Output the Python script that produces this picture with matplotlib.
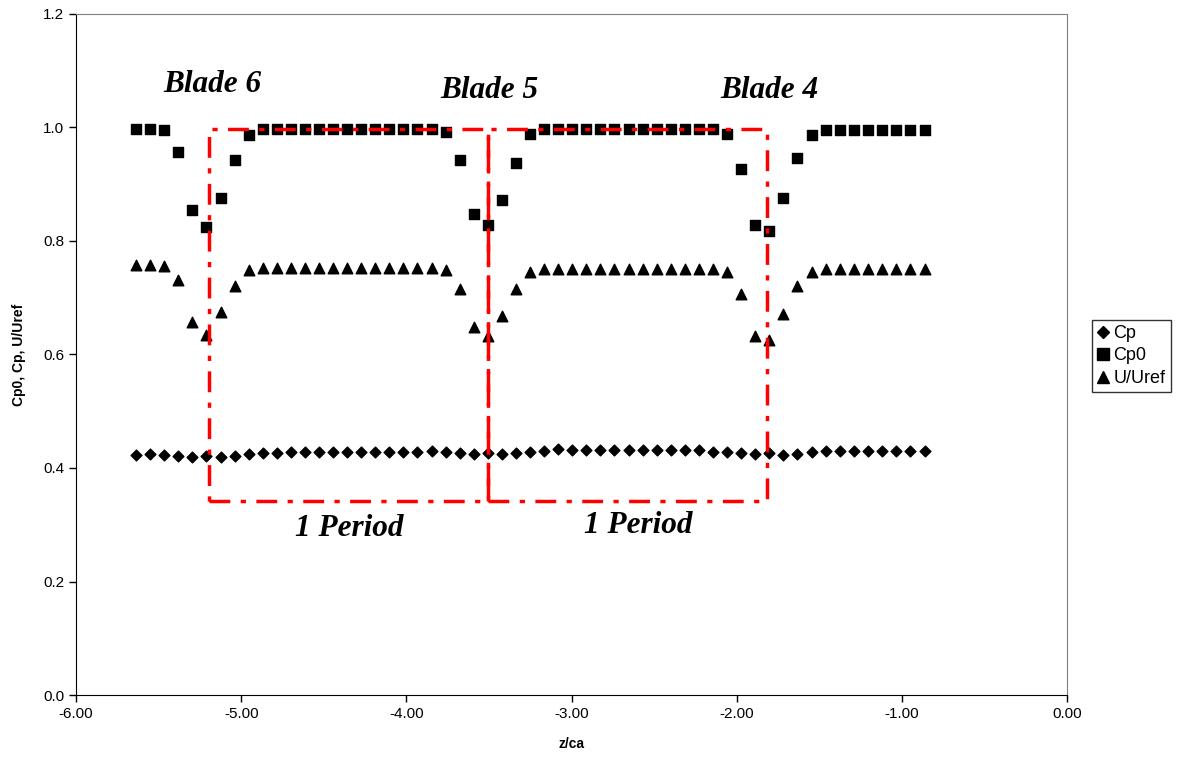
import matplotlib.pyplot as plt
from matplotlib.lines import Line2D

# z/ca positions (57 stations)
z = [-5.636, -5.551, -5.466, -5.381, -5.296, -5.211, -5.125, -5.040, -4.955, -4.870,
     -4.785, -4.699, -4.614, -4.529, -4.444, -4.359, -4.273, -4.188, -4.103, -4.018,
     -3.933, -3.847, -3.762, -3.677, -3.592, -3.507, -3.421, -3.336, -3.251, -3.166,
     -3.081, -2.995, -2.910, -2.825, -2.740, -2.655, -2.569, -2.484, -2.399, -2.314,
     -2.229, -2.143, -2.058, -1.973, -1.888, -1.803, -1.717, -1.632, -1.547, -1.462,
     -1.377, -1.291, -1.206, -1.121, -1.036, -0.951, -0.861]

cp = [0.423, 0.424, 0.423, 0.421, 0.419, 0.421, 0.420, 0.421, 0.424, 0.427,
      0.427, 0.429, 0.429, 0.429, 0.429, 0.429, 0.429, 0.429, 0.429, 0.429,
      0.429, 0.430, 0.428, 0.426, 0.425, 0.426, 0.425, 0.427, 0.428, 0.430,
      0.433, 0.432, 0.432, 0.432, 0.432, 0.432, 0.432, 0.432, 0.432, 0.431,
      0.431, 0.429, 0.428, 0.426, 0.425, 0.427, 0.423, 0.425, 0.428, 0.430,
      0.430, 0.430, 0.430, 0.430, 0.430, 0.430, 0.430]

cp0 = [0.997, 0.998, 0.995, 0.957, 0.854, 0.825, 0.876, 0.943, 0.986, 0.997,
       0.997, 0.997, 0.997, 0.997, 0.997, 0.997, 0.997, 0.997, 0.997, 0.997,
       0.997, 0.997, 0.992, 0.943, 0.847, 0.829, 0.872, 0.938, 0.989, 0.997,
       0.998, 0.997, 0.997, 0.997, 0.997, 0.998, 0.997, 0.997, 0.997, 0.997,
       0.997, 0.997, 0.988, 0.927, 0.829, 0.818, 0.876, 0.946, 0.986, 0.995,
       0.995, 0.995, 0.995, 0.995, 0.995, 0.996, 0.995]

u = [0.757, 0.757, 0.756, 0.731, 0.658, 0.634, 0.674, 0.721, 0.748, 0.753,
     0.752, 0.752, 0.752, 0.752, 0.752, 0.752, 0.752, 0.752, 0.752, 0.752,
     0.752, 0.752, 0.748, 0.716, 0.648, 0.633, 0.667, 0.715, 0.746, 0.751,
     0.751, 0.751, 0.751, 0.751, 0.751, 0.751, 0.751, 0.751, 0.751, 0.751,
     0.751, 0.751, 0.745, 0.707, 0.633, 0.626, 0.671, 0.721, 0.746, 0.751,
     0.751, 0.751, 0.751, 0.751, 0.751, 0.751, 0.751]

# period boxes (z/ca edges) and box height range
period_edges = [-5.192, -3.505, -1.818]
box_bottom, box_top = 0.342, 0.997

blade_labels = ['Blade 6', 'Blade 5', 'Blade 4']
blade_pos = [(-5.176, 1.075), (-3.497, 1.066), (-1.800, 1.066)]
period_pos = [(-4.348, 0.293), (-2.594, 0.298)]

fig = plt.figure(figsize=(11.86, 7.63), dpi=100)
ax = fig.add_axes([0.0641, 0.0891, 0.8356, 0.8926])

ax.scatter(z, cp, marker='D', s=30, color='black', label='Cp', zorder=3)
ax.scatter(z, cp0, marker='s', s=52, color='black', label='Cp0', zorder=3)
ax.scatter(z, u, marker='^', s=58, color='black', label='U/Uref', zorder=3)

# red dash-dot period boxes
for i in range(2):
    x0, x1 = period_edges[i], period_edges[i + 1]
    ax.plot([x0, x1, x1, x0, x0], [box_bottom, box_bottom, box_top, box_top, box_bottom],
            color='red', lw=2.5, ls=(0, (6, 3, 1.5, 3)), zorder=4)

for txt, (x, y) in zip(blade_labels, blade_pos):
    ax.text(x, y, txt, ha='center', va='center', fontsize=22.5, fontweight='bold',
            fontstyle='italic', family='Liberation Serif')
for x, y in period_pos:
    ax.text(x, y, '1 Period', ha='center', va='center', fontsize=22.5, fontweight='bold',
            fontstyle='italic', family='Liberation Serif')

ax.set_xlim(-6, 0)
ax.set_ylim(0, 1.2)
ax.set_xticks([-6, -5, -4, -3, -2, -1, 0])
ax.set_xticklabels(['%.2f' % v for v in [-6, -5, -4, -3, -2, -1, 0]])
ax.set_yticks([0, 0.2, 0.4, 0.6, 0.8, 1.0, 1.2])
ax.set_yticklabels(['%.1f' % v for v in [0, 0.2, 0.4, 0.6, 0.8, 1.0, 1.2]])
ax.tick_params(axis='both', labelsize=11, direction='out', length=5, width=1)
for lab in ax.get_xticklabels() + ax.get_yticklabels():
    lab.set_family('Liberation Sans')

ax.spines['top'].set_color('#808080')
ax.spines['right'].set_color('#808080')
ax.spines['left'].set_color('black')
ax.spines['bottom'].set_color('black')

ax.set_xlabel('z/ca', fontsize=10, fontweight='bold', family='Liberation Sans', labelpad=12)
ax.set_ylabel('Cp0, Cp, U/Uref', fontsize=10, fontweight='bold', family='Liberation Sans', labelpad=12)

handles = [Line2D([], [], marker='D', color='black', ls='none', markersize=6),
           Line2D([], [], marker='s', color='black', ls='none', markersize=8),
           Line2D([], [], marker='^', color='black', ls='none', markersize=8)]
leg = fig.legend(handles, ['Cp', 'Cp0', 'U/Uref'], loc='center left',
                 bbox_to_anchor=(0.9135, 0.5335), frameon=True, fancybox=False,
                 edgecolor='black', handlelength=0.6, handletextpad=0.25,
                 borderpad=0.3, labelspacing=0.3, prop={'family': 'Liberation Sans', 'size': 13})
leg.get_frame().set_linewidth(1)

fig.savefig('out.png', dpi=100)
